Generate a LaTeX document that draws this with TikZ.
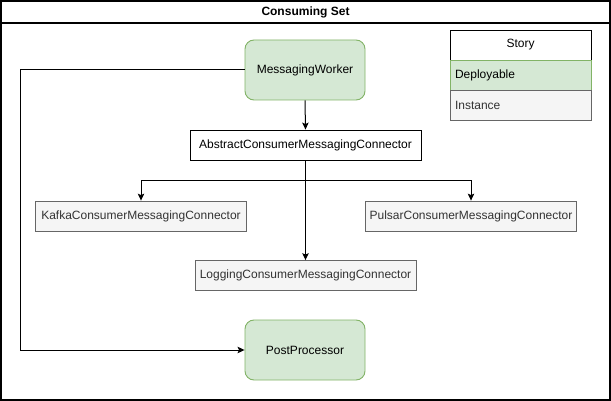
\documentclass[tikz,border=0pt]{standalone}
\usepackage{fontspec}
\setmainfont{Liberation Sans}
\usetikzlibrary{arrows.meta}
\definecolor{gfill}{HTML}{D5E8D4}
\definecolor{gdraw}{HTML}{82B366}
\definecolor{xfill}{HTML}{F5F5F5}
\definecolor{xdraw}{HTML}{666666}
\definecolor{xtext}{HTML}{333333}
\begin{document}
\begin{tikzpicture}[x=1pt,y=-1pt,
  every node/.style={font=\fontsize{12}{14}\selectfont, inner sep=0pt},
  deploybox/.style={draw=gdraw, fill=gfill, rounded corners=9pt, minimum width=120pt, minimum height=60pt, line width=0.9pt},
  instbox/.style={draw=xdraw, fill=xfill, text=xtext, minimum height=30pt, line width=0.8pt},
  plainbox/.style={draw=black, fill=white, minimum height=30pt, line width=0.9pt},
  conn/.style={draw=black, line width=1pt, -{Stealth[length=7pt,width=6.5pt,inset=1.5pt]}},
  leg/.style={minimum width=141pt, minimum height=30pt, line width=0.9pt, text width=131pt, inner xsep=5pt, align=left}
]
\useasboundingbox (0,0) rectangle (611,401);
\fill[white] (0,0) rectangle (611,401);
\draw[line width=1.4pt] (1,1) rectangle (610,400);
\draw[line width=1.2pt] (1,23) -- (610,23);
\node[font=\fontsize{12}{14}\selectfont\bfseries] (title) at (305.5,12) {Consuming Set};

% legend
\node[leg, draw=black, fill=white, align=center] (story) at (520.5,45) {Story};
\node[leg, draw=gdraw, fill=gfill] (deploy) at (520.5,75) {Deployable};
\node[leg, draw=xdraw, fill=xfill, text=xtext] (inst) at (520.5,105) {Instance};

% nodes
\node[deploybox] (mw) at (305,70) {MessagingWorker};
\node[plainbox, minimum width=231pt] (abs) at (305.5,145) {AbstractConsumerMessagingConnector};
\node[instbox, minimum width=211pt] (kafka) at (141,216) {KafkaConsumerMessagingConnector};
\node[instbox, minimum width=211pt] (pulsar) at (471,216) {PulsarConsumerMessagingConnector};
\node[instbox, minimum width=221pt] (log) at (305.5,275.5) {LoggingConsumerMessagingConnector};
\node[deploybox] (pp) at (305,350) {PostProcessor};

% connectors
\coordinate (jk) at (141,181);
\coordinate (jp) at (471,181);
\coordinate (lc1) at (20.5,70);
\coordinate (lc2) at (20.5,350);
\draw[conn] (mw.south) -- (abs.north);
\draw[conn] (abs.south) |- (jk) -- (kafka.north);
\draw[conn] (abs.south) |- (jp) -- (pulsar.north);
\draw[conn] (abs.south) -- (log.north);
\draw[conn] (mw.west) -- (lc1) -- (lc2) -- (pp.west);
\end{tikzpicture}
\end{document}
